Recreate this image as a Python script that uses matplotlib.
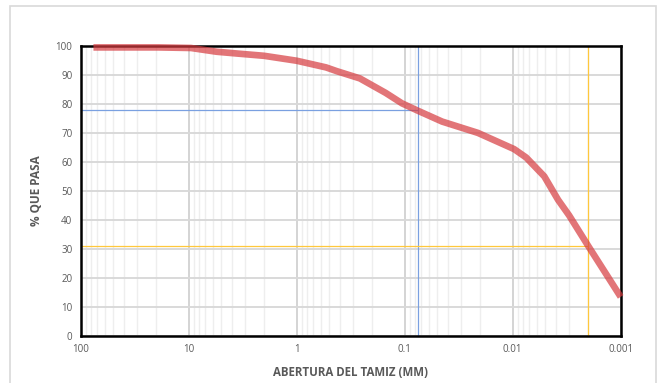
import matplotlib.pyplot as plt
import matplotlib.ticker as mticker
from matplotlib.patches import Rectangle

# grain size curve (sieve opening in mm vs percent passing)
abertura = [76.2, 50.8, 25.4, 19.05, 9.525, 5.5, 3.6, 2.0, 1.0, 0.535, 0.425,
            0.26, 0.15, 0.106, 0.075, 0.045, 0.021, 0.0097, 0.0075, 0.0051,
            0.0038, 0.003, 0.002, 0.001]
pasa = [99.5, 99.5, 99.5, 99.5, 99.3, 98.0, 97.4, 96.6, 94.9, 92.6, 91.3,
        88.8, 83.8, 80.2, 77.6, 73.9, 70.0, 64.4, 61.5, 55.0,
        46.9, 41.5, 31.0, 13.4]

# reference lines (D at 0.075 mm and 0.002 mm)
ref_blue = (0.075, 78.0)
ref_yellow = (0.002, 31.0)

x_ticks = [100, 10, 1, 0.1, 0.01, 0.001]
x_tick_labels = ["100", "10", "1", "0.1", "0.01", "0.001"]
y_ticks = list(range(0, 101, 10))

plt.rcParams["font.family"] = ["Open Sans", "DejaVu Sans"]

fig = plt.figure(figsize=(6.61, 3.83), dpi=100)
fig.patches.append(Rectangle((10 / 661, -0.05), 646 / 661, 1.05 - 6 / 383,
                             transform=fig.transFigure, fill=False,
                             edgecolor="#d9d9d9", linewidth=1.2))

ax = fig.add_axes([0.1221, 0.1235, 0.8169, 0.7565])
ax.set_xscale("log")
ax.set_xlim(100, 0.001)
ax.set_ylim(0, 100)

ax.xaxis.set_major_locator(mticker.FixedLocator(x_ticks))
ax.xaxis.set_major_formatter(mticker.FixedFormatter(x_tick_labels))
ax.xaxis.set_minor_locator(mticker.LogLocator(base=10, subs=range(2, 10)))
ax.xaxis.set_minor_formatter(mticker.NullFormatter())
ax.set_yticks(y_ticks)

ax.grid(True, which="minor", axis="x", color="#eeeeee", linewidth=1.0, zorder=0)
ax.grid(True, which="major", axis="x", color="#d4d4d4", linewidth=1.4, zorder=0)
ax.grid(True, which="major", axis="y", color="#d9d9d9", linewidth=1.4, zorder=0)
ax.set_axisbelow(True)

ax.tick_params(axis="both", which="both", length=0, labelsize=7,
               labelcolor="#595959", pad=6)

for sp in ax.spines.values():
    sp.set_linewidth(1.8)
    sp.set_color("black")

# reference lines
ax.axvline(ref_blue[0], color="#7aa0e0", linewidth=0.9, zorder=2)
ax.plot([100, ref_blue[0]], [ref_blue[1], ref_blue[1]], color="#7aa0e0",
        linewidth=0.9, zorder=2)
ax.axvline(ref_yellow[0], color="#ffc83c", linewidth=0.9, zorder=2)
ax.plot([100, ref_yellow[0]], [ref_yellow[1], ref_yellow[1]], color="#ffc83c",
        linewidth=0.9, zorder=2)

ax.plot(abertura, pasa, color="#d63b3f", alpha=0.7, linewidth=4.8,
        solid_joinstyle="round", solid_capstyle="butt", zorder=3, clip_on=False)

ax.set_xlabel("ABERTURA DEL TAMIZ (MM)", fontsize=8.3, fontweight="bold",
              color="#595959", labelpad=8)
ax.set_ylabel("% QUE PASA", fontsize=8.5, fontweight="bold", color="#595959",
              labelpad=9)

fig.savefig("out.png", dpi=100)
